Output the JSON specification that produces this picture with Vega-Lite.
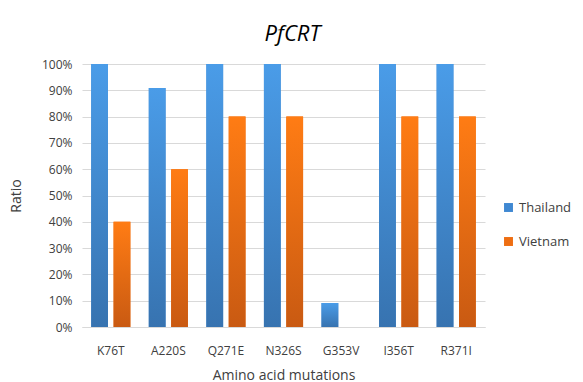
{
  "$schema": "https://vega.github.io/schema/vega-lite/v6.json",
  "width": 403,
  "height": 263,
  "autosize": {"type": "none"},
  "padding": {"left": 82, "top": 64, "right": 98, "bottom": 55},
  "background": "white",
  "title": {"text": "PfCRT", "font": "Open Sans", "fontSize": 22, "fontStyle": "italic", "fontWeight": "normal", "color": "#000000", "offset": 12, "dx": 9},
  "data": {"values": [
    {"mutation": "K76T", "country": "Thailand", "ratio": 1.0},
    {"mutation": "K76T", "country": "Vietnam", "ratio": 0.4},
    {"mutation": "A220S", "country": "Thailand", "ratio": 0.909},
    {"mutation": "A220S", "country": "Vietnam", "ratio": 0.6},
    {"mutation": "Q271E", "country": "Thailand", "ratio": 1.0},
    {"mutation": "Q271E", "country": "Vietnam", "ratio": 0.8},
    {"mutation": "N326S", "country": "Thailand", "ratio": 1.0},
    {"mutation": "N326S", "country": "Vietnam", "ratio": 0.8},
    {"mutation": "G353V", "country": "Thailand", "ratio": 0.091},
    {"mutation": "G353V", "country": "Vietnam", "ratio": 0.0},
    {"mutation": "I356T", "country": "Thailand", "ratio": 1.0},
    {"mutation": "I356T", "country": "Vietnam", "ratio": 0.8},
    {"mutation": "R371I", "country": "Thailand", "ratio": 1.0},
    {"mutation": "R371I", "country": "Vietnam", "ratio": 0.8}
  ]},
  "encoding": {
    "x": {"field": "mutation", "type": "nominal", "sort": null,
      "scale": {"paddingInner": 0.32, "paddingOuter": 0.16},
      "axis": {"title": "Amino acid mutations", "labelAngle": 0, "ticks": false, "labelPadding": 18, "labelFont": "Open Sans", "labelFontSize": 12, "labelColor": "#404040", "titleFont": "Open Sans", "titleFontSize": 14, "titleFontWeight": "normal", "titleColor": "#404040", "titlePadding": 12, "domainColor": "#d9d9d9", "domainWidth": 1}},
    "xOffset": {"field": "country", "type": "nominal", "scale": {"paddingInner": 0.25, "paddingOuter": 0}},
    "y": {"field": "ratio", "type": "quantitative",
      "scale": {"domain": [0, 1], "nice": false},
      "axis": {"title": "Ratio", "format": ".0%", "values": [0,0.1,0.2,0.3,0.4,0.5,0.6,0.7,0.8,0.9,1.0], "labelOverlap": false, "ticks": false, "domain": false, "labelPadding": 10, "labelFont": "Open Sans", "labelFontSize": 12, "labelColor": "#404040", "gridColor": "#d9d9d9", "gridWidth": 1, "titleFont": "Open Sans", "titleFontSize": 14, "titleFontWeight": "normal", "titleColor": "#404040", "titlePadding": 18}}
  },
  "layer": [
    {
      "mark": {"type": "bar"},
      "encoding": {
        "color": {"field": "country", "type": "nominal",
          "scale": {"domain": ["Thailand", "Vietnam"], "range": ["#3f88d2", "#ee6e12"]},
          "legend": {"title": null, "orient": "none", "legendX": 420, "legendY": 137, "symbolType": "square", "symbolSize": 80, "rowPadding": 20, "labelFont": "Open Sans", "labelFontSize": 13, "labelColor": "#404040", "symbolStrokeWidth": 0}}
      }
    },
    {
      "transform": [{"filter": "datum.country === 'Thailand'"}],
      "mark": {"type": "bar", "fill": {"gradient": "linear", "x1": 0, "y1": 0, "x2": 0, "y2": 1, "stops": [{"offset": 0, "color": "#4a9ce8"}, {"offset": 1, "color": "#3773b0"}]}},
      "encoding": {}
    },
    {
      "transform": [{"filter": "datum.country === 'Vietnam'"}],
      "mark": {"type": "bar", "fill": {"gradient": "linear", "x1": 0, "y1": 0, "x2": 0, "y2": 1, "stops": [{"offset": 0, "color": "#ff7c14"}, {"offset": 1, "color": "#c95a12"}]}},
      "encoding": {}
    }
  ],
  "config": {"view": {"stroke": null}}
}
